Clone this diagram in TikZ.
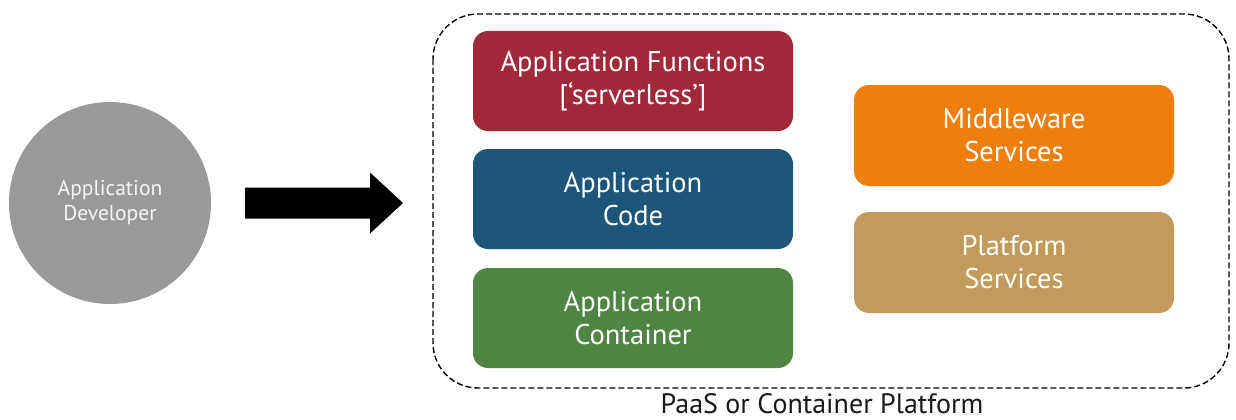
\documentclass[tikz,border=0pt]{standalone}
\usepackage{fontspec}
\setmainfont{PT Sans}
\definecolor{fnred}{HTML}{A0293A}
\definecolor{codeblue}{HTML}{1D5679}
\definecolor{contgreen}{HTML}{4E8542}
\definecolor{midorange}{HTML}{EE7F0E}
\definecolor{plattan}{HTML}{C29A5B}
\definecolor{devgray}{HTML}{999999}
\begin{document}
\begin{tikzpicture}[x=1pt,y=-1pt,
  blk/.style={rounded corners=15pt, minimum width=320pt, minimum height=100pt,
    inner sep=0pt, text=white, align=center,
    font=\fontsize{28.5}{33}\selectfont},
]
\useasboundingbox (0,0) rectangle (1236,420);
% developer
\node[circle, fill=devgray, minimum size=202pt, inner sep=0pt, align=center,
  text=white!92!gray, font=\fontsize{21.5}{25}\selectfont] (dev) at (110,203)
  {Application\\Developer};
% platform frame
\draw[dash pattern=on 6pt off 3pt, line width=1.4pt, rounded corners=45pt]
  (433,14) rectangle (1229,388);
% block arrow from the developer to the platform
\coordinate (atail) at (245,203);
\coordinate (atip) at (403,203);
\fill[black] (atail) ++(0,-15.5) -- ++(125,0) -- ++(0,-15) -- (atip)
  -- ++(-33,30.5) -- ++(0,-15) -- ++(-125,0) -- cycle;
% left column
\node[blk, fill=fnred] (fn) at (633,81) {Application Functions\\{}[‘serverless’]};
\node[blk, fill=codeblue] (code) at (633,199) {Application\\Code};
\node[blk, fill=contgreen] (cont) at (633,318) {Application\\Container};
% right column
\node[blk, fill=midorange, minimum height=101pt] (mid) at (1014,135.5) {Middleware\\Services};
\node[blk, fill=plattan, minimum height=101pt] (plat) at (1014,262.5) {Platform\\Services};
% caption
\node[font=\fontsize{28}{30}\selectfont, text=black!90, anchor=base, inner sep=0pt]
  (cap) at (822,413.5) {PaaS or Container Platform};
\end{tikzpicture}
\end{document}
